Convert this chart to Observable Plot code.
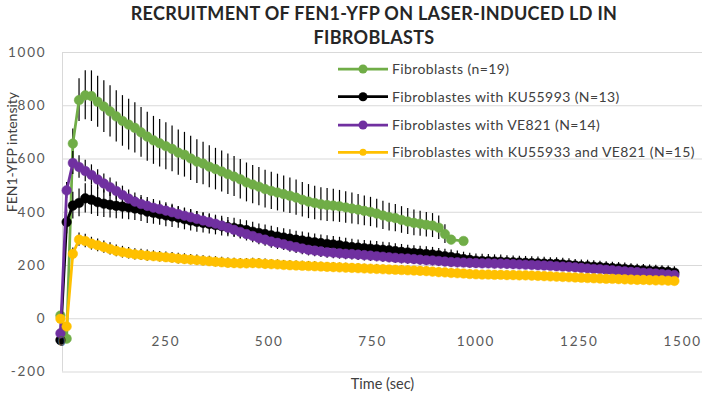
<!DOCTYPE html>
<html>
<head>
<meta charset="utf-8">
<script src="https://cdn.jsdelivr.net/npm/d3@7"></script>
<script src="https://cdn.jsdelivr.net/npm/@observablehq/plot@0.6"></script>
<style>
  html, body { margin: 0; padding: 0; background: #fff; }
  #chart { width: 704px; height: 405px; position: relative; overflow: hidden; font-family: Lato, "Open Sans", sans-serif; }
  #title { height: 52px; box-sizing: border-box; padding-top: 1px; padding-left: 44px; text-align: center;
           font-weight: 700; font-size: 18px; line-height: 24px; color: #262626; letter-spacing: 0.3px; }
</style>
</head>
<body>
<div id="chart">
  <div id="title">RECRUITMENT OF FEN1-YFP ON LASER-INDUCED LD IN<br>FIBROBLASTS</div>
</div>
<script>
// ---- data ----
const time = [-5,10,25,40,55,70,85,100,115,130,145,160,175,190,205,220,235,250,265,280,295,310,325,340,355,370,385,400,415,430,445,460,475,490,505,520,535,550,565,580,595,610,625,640,655,670,685,700,715,730,745,760,775,790,805,820,835,850,865,880,895,910,925,940,955,970,985,1000,1015,1030,1045,1060,1075,1090,1105,1120,1135,1150,1165,1180,1195,1210,1225,1240,1255,1270,1285,1300,1315,1330,1345,1360,1375,1390,1405,1420,1435,1450,1465,1480];

const seriesNames = ["Fibroblasts (n=19)", "Fibroblastes with KU55993 (N=13)", "Fibroblastes with VE821 (N=14)", "Fibroblastes with KU55933 and VE821 (N=15)"];
const seriesColors = ["#70AD47", "#000000", "#7030A0", "#FFC000"];

const fibroblasts = [12,-75,658,821,839,836,815,797,779,760,
  743,729,717,700,684,670,659,648,638,624,
  616,602,590,583,571,562,553,543,534,524,
  512,504,496,487,480,474,468,462,455,447,
  440,435,430,427,425,422,418,414,410,405,
  401,395,388,382,378,371,365,360,357,353,
  350,342,318,297,null,292];
const fibroblastsErr = [8,8,55,80,92,95,96,97,96,96,
  95,95,94,93,92,90,89,88,86,85,
  84,83,82,80,79,78,77,76,75,74,
  73,72,72,71,70,69,68,67,66,65,
  64,63,62,62,61,60,59,58,57,56,
  55,54,53,52,51,50,49,48,47,46,
  45,44,35,0,null,0];

const ku = [-80,363,425,435,452,447,438,432,428,424,
  421,418,414,410,402,398,393,388,384,380,
  374,369,364,360,356,352,348,344,341,337,
  333,327,322,318,313,309,305,301,297,294,
  290,287,284,281,279,276,272,269,267,265,
  263,261,259,257,254,251,249,247,245,243,
  241,238,235,232,228,224,221,218,217,216,
  215,214,213,212,211,210,209,208,207,206,
  206,204,202,200,198,197,195,194,192,190,
  189,187,185,183,182,180,179,177,176,173];
const kuErr = [10,45,50,52,55,55,54,52,50,48,
  47,46,45,45,44,43,42,42,41,40,
  40,39,39,38,38,37,37,36,36,35,
  35,35,34,34,34,33,33,33,32,32,
  32,31,31,31,30,30,30,30,29,29,
  29,29,28,28,28,28,27,27,27,27,
  27,26,26,26,26,26,25,25,25,25,
  25,25,24,24,24,24,24,24,24,23,
  23,23,23,23,23,23,23,22,22,22,
  22,22,22,22,22,22,22,22,22,22];

const ve = [-55,482,585,570,555,540,523,508,494,480,
  465,451,440,431,424,417,412,406,400,393,
  387,381,375,369,363,357,350,342,334,326,
  318,311,303,297,290,285,280,274,269,264,
  259,256,253,250,248,246,244,243,241,239,
  237,235,233,231,229,227,226,224,222,220,
  219,217,215,213,212,211,210,209,208,208,
  207,207,206,205,204,203,202,201,200,199,
  197,196,195,193,191,189,187,186,184,182,
  180,178,176,175,173,172,170,168,166,164];
const veErr = [8,30,43,42,40,38,37,36,35,34,
  33,33,32,32,31,31,30,30,30,29,
  29,29,28,28,28,27,27,27,26,26,
  26,26,25,25,25,25,24,24,24,24,
  23,23,23,23,23,22,22,22,22,22,
  22,21,21,21,21,21,21,20,20,20,
  20,20,20,20,20,19,19,19,19,19,
  19,19,19,19,19,18,18,18,18,18,
  18,18,18,18,18,18,17,17,17,17,
  17,17,17,17,17,17,17,17,17,17];

const kuVe = [0,-29,244,297,292,282,276,269,262,255,
  250,246,242,240,237,235,233,231,229,226,
  224,222,220,218,216,214,212,210,209,208,
  208,209,208,206,205,204,202,201,200,199,
  198,197,196,195,194,193,192,191,190,189,
  188,187,186,185,184,183,182,181,180,179,
  177,175,174,172,171,170,168,167,166,166,
  165,165,164,164,163,163,162,161,160,159,
  158,157,156,155,154,153,152,151,150,150,
  149,148,147,146,146,145,144,144,143,142];
const kuVeErr = [5,10,22,25,25,24,24,23,23,22,
  22,22,21,21,21,20,20,20,20,20,
  20,19,19,19,19,19,19,18,18,18,
  18,18,18,18,17,17,17,17,17,17,
  17,17,16,16,16,16,16,16,16,16,
  16,16,15,15,15,15,15,15,15,15,
  15,15,15,15,15,15,15,14,14,14,
  14,14,14,14,14,14,14,14,14,14,
  14,14,14,14,14,14,13,13,13,13,
  13,13,13,13,13,13,13,13,13,13];

const xTicks = [0, 250, 500, 750, 1000, 1250, 1500];
const yTicks = [-200, 0, 200, 400, 600, 800, 1000];

// ---- build tables ----
function rows(values, errs) {
  return values.map((v, i) => ({t: time[i], v, e: errs[i]})).filter(d => d.v != null);
}
const tables = [rows(fibroblasts, fibroblastsErr), rows(ku, kuErr), rows(ve, veErr), rows(kuVe, kuVeErr)];

const seriesMarks = tables.flatMap((data, k) => [
  Plot.ruleX(data.filter(d => d.e > 0), {x: "t", y1: d => d.v - d.e, y2: d => d.v + d.e, stroke: "#000", strokeWidth: 1.2}),
  Plot.line(data, {x: "t", y: "v", stroke: seriesColors[k], strokeWidth: 2.75}),
  Plot.dot(data, {x: "t", y: "v", r: 4.8, fill: seriesColors[k], stroke: seriesColors[k], strokeWidth: 0.5})
]);

const svg = Plot.plot({
  width: 704,
  height: 353,
  marginTop: 0,
  marginLeft: 62,
  marginRight: 2,
  marginBottom: 33.5,
  style: {fontFamily: "Lato, 'Open Sans', sans-serif", background: "transparent", overflow: "visible"},
  x: {domain: [0, 1548], axis: null},
  y: {domain: [-200, 1000], axis: null},
  marks: [
    Plot.ruleY(yTicks, {stroke: "#d9d9d9", strokeWidth: 1}),
    Plot.ruleX([0], {stroke: "#d9d9d9", strokeWidth: 1}),
    ...seriesMarks,
    Plot.text(yTicks, {y: d => d, frameAnchor: "left", dx: -16, textAnchor: "end", text: d => String(d), fontSize: 13.5, fill: "#595959"}),
    Plot.text(xTicks, {x: d => d, y: () => 0, dy: 23, text: d => String(d), fontSize: 13.5, fill: "#595959"}),
    Plot.text(["Time (sec)"], {frameAnchor: "bottom", dy: 17, fontSize: 14.5, fill: "#404040"}),
    Plot.text(["FEN1-YFP intensity"], {frameAnchor: "left", dx: -50, rotate: -90, fontSize: 14, fill: "#404040"})
  ]
});

d3.select(svg).selectAll("text").style("letter-spacing", function() {
  return this.textContent.match(/^-?\d+$/) ? "1.8px" : null;
});

// ---- legend ----
const lg = d3.select(svg).append("g").attr("text-anchor", "start");
const rowsY = [17, 44.7, 73, 100.3];
seriesNames.forEach((name, i) => {
  const g = lg.append("g").attr("transform", `translate(338,${rowsY[i]})`);
  g.append("line").attr("x1", 0).attr("x2", 50).attr("y1", 0).attr("y2", 0)
    .attr("stroke", seriesColors[i]).attr("stroke-width", 2.75);
  g.append("circle").attr("cx", 25).attr("cy", 0).attr("r", i === 3 ? 3.5 : 4.5).attr("fill", seriesColors[i]);
  g.append("text").attr("x", 54).attr("y", 0).attr("dy", "0.35em").attr("font-size", 14)
    .attr("text-anchor", "start")
    .attr("fill", "#404040").style("letter-spacing", "0.4px").text(name);
});

document.getElementById("chart").appendChild(svg);
</script>
</body>
</html>
